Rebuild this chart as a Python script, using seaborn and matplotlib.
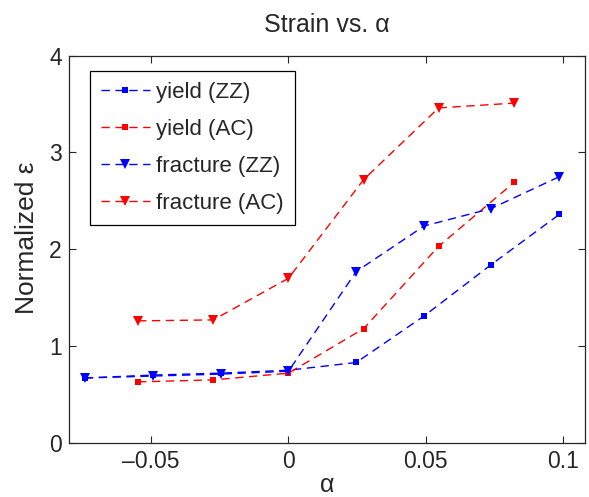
"""Strain vs. alpha, normalized strain for yield and fracture (ZZ / AC)."""

import matplotlib
matplotlib.use("Agg")
import matplotlib.pyplot as plt
import pandas as pd
import seaborn as sns

# zigzag series share one set of alpha values, armchair another
alpha_zz = [-0.0742, -0.0494, -0.0247, 0.0, 0.0247, 0.0494, 0.0738, 0.0987]
yield_zz = [0.67, 0.70, 0.72, 0.75, 0.83, 1.31, 1.84, 2.36]
fracture_zz = [0.67, 0.69, 0.71, 0.74, 1.77, 2.24, 2.42, 2.75]

alpha_ac = [-0.0548, -0.0274, 0.0, 0.0274, 0.0547, 0.0822]
yield_ac = [0.63, 0.65, 0.72, 1.18, 2.03, 2.69]
fracture_ac = [1.26, 1.27, 1.70, 2.72, 3.46, 3.51]

x_ticks = [-0.05, 0, 0.05, 0.1]
x_tick_labels = ["\u20130.05", "0", "0.05", "0.1"]
y_ticks = [0, 1, 2, 3, 4]

series = [
    ("yield (ZZ)", alpha_zz, yield_zz, "blue", "s", 5),
    ("yield (AC)", alpha_ac, yield_ac, "red", "s", 5),
    ("fracture (ZZ)", alpha_zz, fracture_zz, "blue", "v", 7),
    ("fracture (AC)", alpha_ac, fracture_ac, "red", "v", 7),
]

sns.set_style("ticks")
plt.rcParams["font.family"] = ["Liberation Sans", "DejaVu Sans"]
plt.rcParams["xtick.direction"] = "in"
plt.rcParams["ytick.direction"] = "in"

fig = plt.figure(figsize=(5.89, 4.97), dpi=100)
ax = fig.add_axes([0.117, 0.109, 0.876, 0.779])

for name, xs, ys, color, marker, size in series:
    df = pd.DataFrame({"alpha": xs, "eps": ys})
    sns.lineplot(
        data=df, x="alpha", y="eps", ax=ax, color=color, marker=marker,
        markersize=size, markeredgewidth=0, linestyle=(0, (6, 4)),
        linewidth=1, label=name, estimator=None, sort=False,
    )

ax.set_xlim(-0.08, 0.108)
ax.set_ylim(0, 4)
ax.set_xticks(x_ticks)
ax.set_xticklabels(x_tick_labels)
ax.set_yticks(y_ticks)
ax.tick_params(top=True, right=True, length=5, width=0.8, labelsize=16.5, pad=5)
for spine in ax.spines.values():
    spine.set_visible(True)
    spine.set_linewidth(0.9)

ax.set_xlabel("α", fontsize=18, labelpad=0)
ax.set_ylabel("Normalized ε", fontsize=19, labelpad=4)
ax.yaxis.set_label_coords(-0.058, 0.53)
ax.set_title("Strain vs. α", fontsize=18, pad=17)

leg = ax.legend(
    loc="upper left", bbox_to_anchor=(0.04, 0.96), borderaxespad=0, fontsize=16,
    frameon=True, fancybox=False, edgecolor="black", framealpha=1,
    handlelength=2.2, handletextpad=0.3, labelspacing=0.72, borderpad=0.5,
)
leg.get_frame().set_linewidth(0.9)

fig.savefig("out.png", dpi=100)
